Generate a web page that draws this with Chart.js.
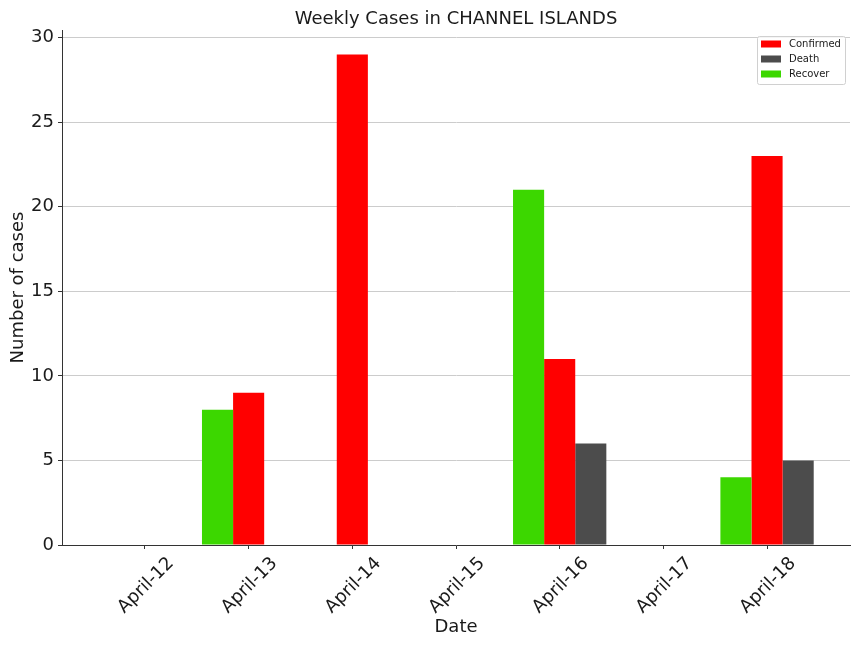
<!DOCTYPE html>
<html>
<head>
<meta charset="utf-8">
<script src="https://cdn.jsdelivr.net/npm/chart.js@4"></script>
<style>
  html, body { margin: 0; padding: 0; background: #fff; }
  #wrap { width: 864px; height: 648px; }
</style>
</head>
<body>
<div id="wrap"><canvas id="weeklyChart" width="864" height="648"></canvas></div>
<script>
// Data
const dates = ['April-12', 'April-13', 'April-14', 'April-15', 'April-16', 'April-17', 'April-18'];
const recovered = [0, 8, 0, 0, 21, 0, 4];
const confirmed = [0, 9, 29, 0, 11, 0, 23];
const deaths = [0, 0, 0, 0, 6, 0, 5];
const yTicks = [0, 5, 10, 15, 20, 25, 30];

const FONT = 'DejaVu Sans';
const TEXT = '#1a1a1a';
const AXIS = '#333333';

// turn a series into {x, y} points on the linear x scale
function toPoints(values) {
    return values.map((v, i) => ({ x: i, y: v }));
}

// Legend drawn inside the plot, top right, in the order of the original
const boxLegend = {
    id: 'boxLegend',
    afterDraw(chart) {
        const ctx = chart.ctx;
        const area = chart.chartArea;
        const order = ['Confirmed', 'Death', 'Recover'];
        const items = order.map(name => chart.data.datasets.find(ds => ds.label === name));

        const w = 88, h = 48;
        const x = area.right - 5 - w;
        const y = area.top + 6;

        ctx.save();
        ctx.fillStyle = 'rgba(255,255,255,0.8)';
        ctx.strokeStyle = '#d0d0d0';
        ctx.lineWidth = 1;
        ctx.beginPath();
        ctx.roundRect(x + 0.5, y + 0.5, w, h, 2);
        ctx.fill();
        ctx.stroke();

        ctx.font = '10px "' + FONT + '"';
        ctx.textBaseline = 'middle';
        items.forEach((ds, i) => {
            const rowY = y + 8 + i * 15;
            ctx.fillStyle = ds.backgroundColor;
            ctx.fillRect(x + 4, rowY - 3.5, 20, 7);
            ctx.fillStyle = TEXT;
            ctx.fillText(ds.label, x + 32, rowY);
        });
        ctx.restore();
    }
};

const ctx = document.getElementById('weeklyChart').getContext('2d');

new Chart(ctx, {
    type: 'bar',
    data: {
        datasets: [
            { label: 'Recover', data: toPoints(recovered), backgroundColor: '#3cd700' },
            { label: 'Confirmed', data: toPoints(confirmed), backgroundColor: '#ff0000' },
            { label: 'Death', data: toPoints(deaths), backgroundColor: '#4c4c4c' }
        ]
    },
    options: {
        responsive: false,
        animation: false,
        devicePixelRatio: 1,
        layout: { padding: { left: 0, right: 14, top: 0, bottom: 0 } },
        datasets: {
            bar: { categoryPercentage: 0.9, barPercentage: 1.0, borderWidth: 0 }
        },
        plugins: {
            legend: { display: false },
            tooltip: { enabled: false },
            title: {
                display: true,
                fullSize: false,
                text: 'Weekly Cases in CHANNEL ISLANDS',
                color: TEXT,
                font: { family: FONT, size: 18, weight: 'normal', lineHeight: '21px' },
                padding: { top: 9, bottom: 0 }
            }
        },
        scales: {
            x: {
                type: 'linear',
                min: -0.8,
                max: 6.8,
                offset: false,
                afterBuildTicks: scale => {
                    scale.ticks = dates.map((d, i) => ({ value: i }));
                },
                afterFit: scale => { scale.height = 103; },
                ticks: {
                    autoSkip: false,
                    includeBounds: false,
                    minRotation: 45,
                    maxRotation: 45,
                    labelOffset: 26,
                    padding: 4,
                    color: TEXT,
                    font: { family: FONT, size: 18 },
                    callback: value => dates[value] || ''
                },
                grid: {
                    offset: false,
                    drawOnChartArea: false,
                    drawTicks: true,
                    tickLength: 4,
                    tickColor: AXIS
                },
                border: { display: true, color: AXIS, width: 1 },
                title: {
                    display: true,
                    text: 'Date',
                    color: TEXT,
                    font: { family: FONT, size: 18, lineHeight: 1.2 },
                    padding: { top: 0, bottom: 10 }
                }
            },
            y: {
                min: 0,
                max: 30.45,
                afterBuildTicks: scale => {
                    scale.ticks = yTicks.map(v => ({ value: v }));
                },
                afterFit: scale => { scale.width = 62; },
                ticks: {
                    includeBounds: false,
                    padding: 4,
                    color: TEXT,
                    font: { family: FONT, size: 18 }
                },
                grid: {
                    color: '#cccccc',
                    lineWidth: 1,
                    drawTicks: true,
                    tickLength: 4,
                    tickColor: AXIS
                },
                border: { display: true, color: AXIS, width: 1 },
                title: {
                    display: true,
                    text: 'Number of cases',
                    color: TEXT,
                    font: { family: FONT, size: 18, lineHeight: 1.2 },
                    padding: { top: 8, bottom: 0 }
                }
            }
        }
    },
    plugins: [boxLegend]
});
</script>
</body>
</html>
